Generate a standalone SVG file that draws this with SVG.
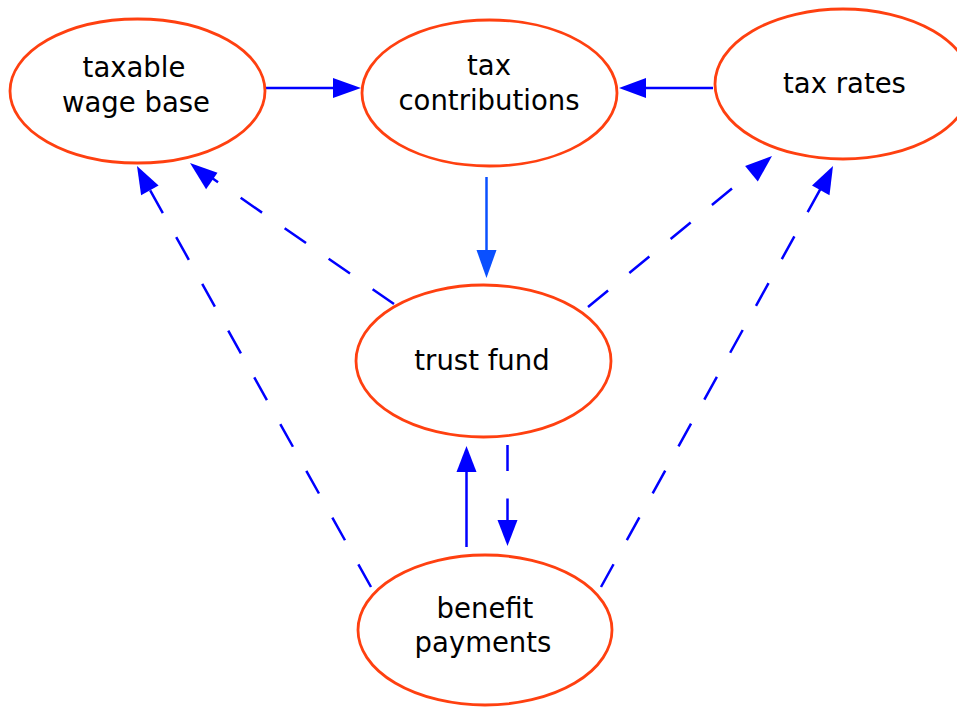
<svg xmlns="http://www.w3.org/2000/svg" width="957" height="707" viewBox="0 0 957 707">
  <style>
    .node ellipse { fill: #ffffff; stroke: #ff4010; stroke-width: 2.8; }
    .node text { font-family: "DejaVu Sans", Verdana, sans-serif; font-size: 27.5px; fill: #000000; text-anchor: middle; }
    .edge { stroke: #0000ff; stroke-width: 2.5; fill: none; }
    .dashed { stroke-dasharray: 26 27.5; }
    .head { fill: #0000ff; stroke: none; }
    .edge.light { stroke: #0a50ff; }
    .head.light { fill: #0a50ff; }
  </style>
  <rect width="957" height="707" fill="#ffffff"/>

  <g id="connectors">
    <!-- taxable wage base -> tax contributions -->
    <line class="edge" x1="266" y1="88" x2="334" y2="88"/>
    <polygon class="head" points="361,88 333,78 333,98"/>
    <!-- tax rates -> tax contributions -->
    <line class="edge" x1="713" y1="88" x2="645" y2="88"/>
    <polygon class="head" points="619,88 646,78 646,98"/>
    <!-- tax contributions -> trust fund -->
    <line class="edge light" x1="486.5" y1="177" x2="486.5" y2="252"/>
    <polygon class="head light" points="486.5,278 476.5,250 496.5,250"/>
    <!-- trust fund -> taxable wage base -->
    <line class="edge dashed" x1="394" y1="304" x2="212" y2="178"/>
    <polygon class="head" points="190,163 217.5,172.7 206.1,189.2"/>
    <!-- benefit payments -> taxable wage base -->
    <line class="edge dashed" x1="371" y1="587" x2="150" y2="190"/>
    <polygon class="head" points="137,166 158.6,185.6 141.1,195.3"/>
    <!-- trust fund -> tax rates -->
    <line class="edge dashed" x1="588" y1="307" x2="752" y2="172"/>
    <polygon class="head" points="772,156 757.8,181.4 745.1,166.0"/>
    <!-- benefit payments -> tax rates -->
    <line class="edge dashed" x1="601" y1="587" x2="821" y2="188"/>
    <polygon class="head" points="833,166 829.5,195.2 812.0,185.5"/>
    <!-- benefit payments -> trust fund -->
    <line class="edge" x1="466.5" y1="547" x2="466.5" y2="470"/>
    <polygon class="head" points="466.5,446 456.5,472 476.5,472"/>
    <!-- trust fund -> benefit payments -->
    <line class="edge dashed" x1="507.5" y1="445" x2="507.5" y2="522"/>
    <polygon class="head" points="507.5,546 497.5,520 517.5,520"/>
  </g>

  <g id="taxable-wage-base" class="node">
    <ellipse cx="137.5" cy="91" rx="127.5" ry="72"/>
    <text x="134" y="77">taxable</text>
    <text x="136" y="112">wage base</text>
  </g>

  <g id="tax-contributions" class="node">
    <ellipse cx="489.5" cy="93" rx="127.5" ry="73"/>
    <text x="489" y="75">tax</text>
    <text x="489" y="110">contributions</text>
  </g>

  <g id="tax-rates" class="node">
    <ellipse cx="843" cy="84" rx="128" ry="75"/>
    <text x="844.5" y="93">tax rates</text>
  </g>

  <g id="trust-fund" class="node">
    <ellipse cx="483.5" cy="361" rx="127.5" ry="76"/>
    <text x="482" y="370">trust fund</text>
  </g>

  <g id="benefit-payments" class="node">
    <ellipse cx="485" cy="630" rx="127" ry="75"/>
    <text x="485" y="618">benefit</text>
    <text x="483" y="652">payments</text>
  </g>
</svg>
